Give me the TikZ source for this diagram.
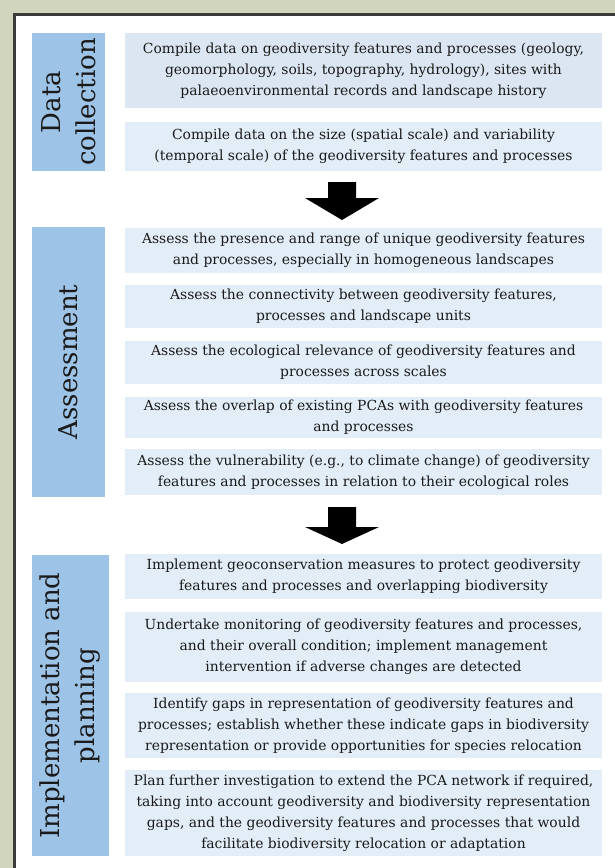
\documentclass[tikz,border=0pt]{standalone}
\usepackage{fontspec}
\setmainfont{DejaVu Serif}
\definecolor{bgolive}{HTML}{D2D5BD}
\definecolor{framegray}{HTML}{3A3A3A}
\definecolor{labblue}{HTML}{9DC3E6}
\definecolor{boxblueA}{HTML}{DCE6F2}
\definecolor{boxblueB}{HTML}{E2EDF8}
\definecolor{inkgray}{HTML}{1A1A1A}
\begin{document}
\begin{tikzpicture}[x=1pt,y=-1pt,
  lab/.style={fill=labblue, inner sep=0pt, align=center, text=inkgray,
    font=\fontsize{26}{35}\selectfont, rotate=90},
  txt/.style={fill=boxblueB, inner sep=0pt, align=center, text=inkgray,
    minimum width=477pt, font=\fontsize{13.9}{21}\selectfont},
  flowarrow/.style={fill=black}
]
\useasboundingbox (0,0) rectangle (615,868);
\fill[bgolive] (0,0) rectangle (615,868);
\draw[framegray, line width=2.5pt, fill=white] (14.5,14.5) rectangle (630,880);

% Labels
\node[lab, minimum width=138pt, minimum height=73pt] (dc) at (68.5,102) {Data\\collection};
\node[lab, minimum width=270pt, minimum height=73pt] (as) at (68.5,362) {Assessment};
\node[lab, minimum width=301pt, minimum height=77pt] (ip) at (70.5,705.5) {Implementation and\\planning};

% Data collection boxes
\node[txt, fill=boxblueA, minimum height=75pt] (d1) at (363.5,70.5) {Compile data on geodiversity features and processes (geology,\\geomorphology, soils, topography, hydrology), sites with\\palaeoenvironmental records and landscape history};
\node[txt, minimum height=49pt] (d2) at (363.5,146.5) {Compile data on the size (spatial scale) and variability\\(temporal scale) of the geodiversity features and processes};

% Assessment boxes
\node[txt, minimum height=45pt] (a1) at (363.5,250.5) {Assess the presence and range of unique geodiversity features\\and processes, especially in homogeneous landscapes};
\node[txt, minimum height=43pt] (a2) at (363.5,306.5) {Assess the connectivity between geodiversity features,\\processes and landscape units};
\node[txt, minimum height=43pt] (a3) at (363.5,362.5) {Assess the ecological relevance of geodiversity features and\\processes across scales};
\node[txt, minimum height=41pt] (a4) at (363.5,417.5) {Assess the overlap of existing PCAs with geodiversity features\\and processes};
\node[txt, minimum height=46pt] (a5) at (363.5,472) {Assess the vulnerability (e.g., to climate change) of geodiversity\\features and processes in relation to their ecological roles};

% Implementation boxes
\node[txt, minimum height=45pt] (i1) at (363.5,576.5) {Implement geoconservation measures to protect geodiversity\\features and processes and overlapping biodiversity};
\node[txt, minimum height=70pt] (i2) at (363.5,647) {Undertake monitoring of geodiversity features and processes,\\and their overall condition; implement management\\intervention if adverse changes are detected};
\node[txt, minimum height=65pt] (i3) at (363.5,725.5) {Identify gaps in representation of geodiversity features and\\processes; establish whether these indicate gaps in biodiversity\\representation or provide opportunities for species relocation};
\node[txt, minimum height=86pt] (i4) at (363.5,813) {Plan further investigation to extend the PCA network if required,\\taking into account geodiversity and biodiversity representation\\gaps, and the geodiversity features and processes that would\\facilitate biodiversity relocation or adaptation};

% Block arrows
\coordinate (ar1) at (342,182);
\coordinate (ar2) at (342,507);
\fill[flowarrow] (ar1) ++(-14,0) -- ++(28,0) -- ++(0,16) -- ++(23,0) -- ++(-37,22) -- ++(-37,-22) -- ++(23,0) -- cycle;
\fill[flowarrow] (ar2) ++(-14,0) -- ++(28,0) -- ++(0,20) -- ++(23,0) -- ++(-37,17) -- ++(-37,-17) -- ++(23,0) -- cycle;
\end{tikzpicture}
\end{document}
